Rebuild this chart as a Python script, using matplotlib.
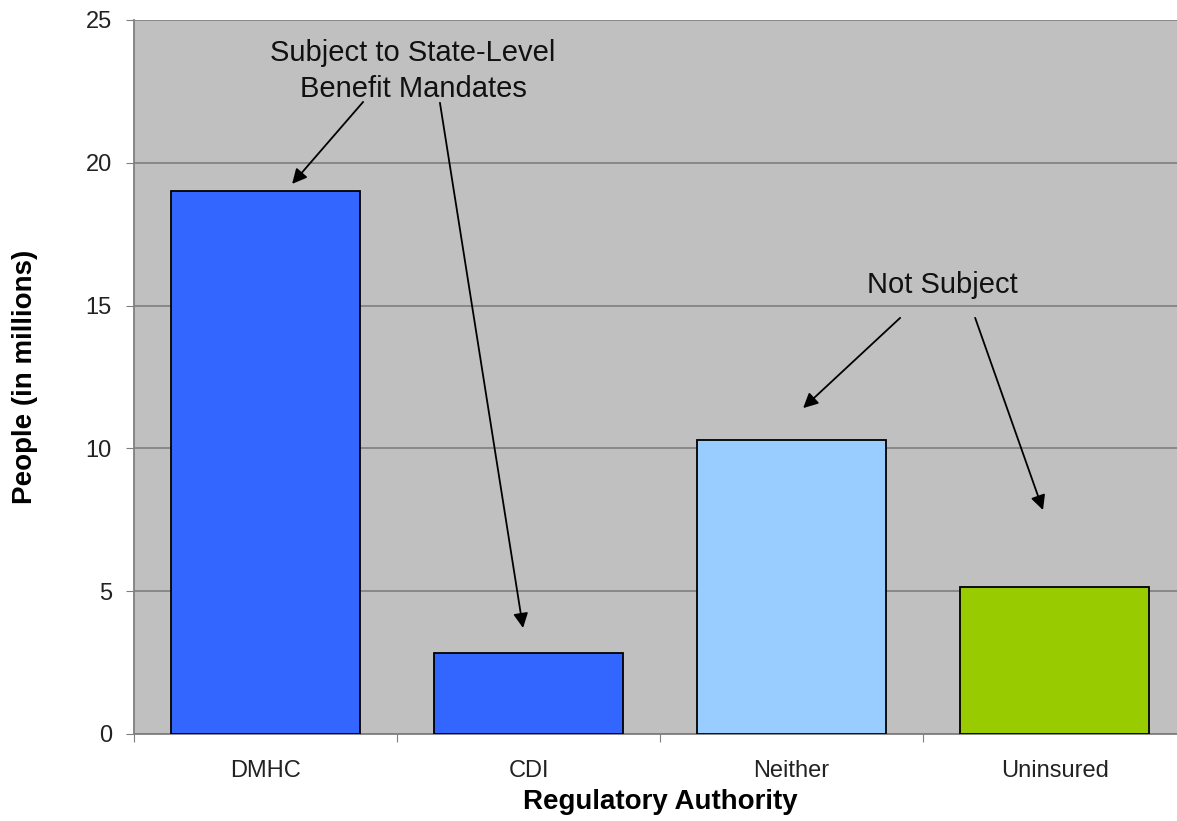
import numpy as np
import matplotlib.pyplot as plt

plt.rcParams['font.family'] = ['Liberation Sans', 'DejaVu Sans']

categories = ['DMHC', 'CDI', 'Neither', 'Uninsured']
people = [19.0, 2.85, 10.3, 5.15]
bar_colors = ['#3366FF', '#3366FF', '#99CCFF', '#99CC00']

fig = plt.figure(figsize=(11.77, 8.21), dpi=100)
ax = fig.add_axes([0.1139, 0.106, 0.8938, 0.8697])
ax.set_facecolor('#C0C0C0')

x = np.arange(len(categories))
ax.bar(x, people, width=0.72, color=bar_colors, edgecolor='black', linewidth=1.3, zorder=3)

ax.set_xlim(-0.5, len(categories) - 0.5)
ax.set_ylim(0, 25)
ax.set_yticks(np.arange(0, 26, 5))
ax.yaxis.grid(True, color='#7f7f7f', linewidth=1.2, zorder=1)
ax.set_axisbelow(True)

# category labels between boundary ticks
ax.set_xticks(np.arange(-0.5, len(categories), 1.0))
ax.set_xticklabels([])
ax.set_xticks(x, minor=True)
ax.set_xticklabels(categories, minor=True, fontsize=17, color='#222222')
ax.tick_params(axis='x', which='minor', length=0, pad=19)
ax.tick_params(axis='x', which='major', length=6, color='#7f7f7f', direction='out')
ax.tick_params(axis='y', length=6, color='#7f7f7f', labelsize=17, labelcolor='#222222', pad=10)

for s in ['top', 'right']:
    ax.spines[s].set_visible(False)
for s in ['left', 'bottom']:
    ax.spines[s].set_color('#7f7f7f')
    ax.spines[s].set_linewidth(1.3)

ax.set_xlabel('Regulatory Authority', fontsize=20, fontweight='bold', labelpad=5)
ax.set_ylabel('People (in millions)', fontsize=20, fontweight='bold', labelpad=34)

arrow = dict(arrowstyle='-|>', color='black', lw=1.3, mutation_scale=22, shrinkA=0, shrinkB=0)

ax.text(0.561, 23.22, 'Subject to State-Level\nBenefit Mandates', ha='center', va='center',
        fontsize=21, linespacing=1.35, color='#111111')
ax.annotate('', xy=(0.101, 19.26), xytext=(0.371, 22.13), arrowprops=arrow)
ax.annotate('', xy=(0.979, 3.71), xytext=(0.663, 22.1), arrowprops=arrow)

ax.text(2.572, 15.72, 'Not Subject', ha='center', va='center', fontsize=21, color='#111111')
ax.annotate('', xy=(2.044, 11.41), xytext=(2.413, 14.57), arrowprops=arrow)
ax.annotate('', xy=(2.956, 7.84), xytext=(2.698, 14.57), arrowprops=arrow)

fig.savefig('out.png', dpi=100)
